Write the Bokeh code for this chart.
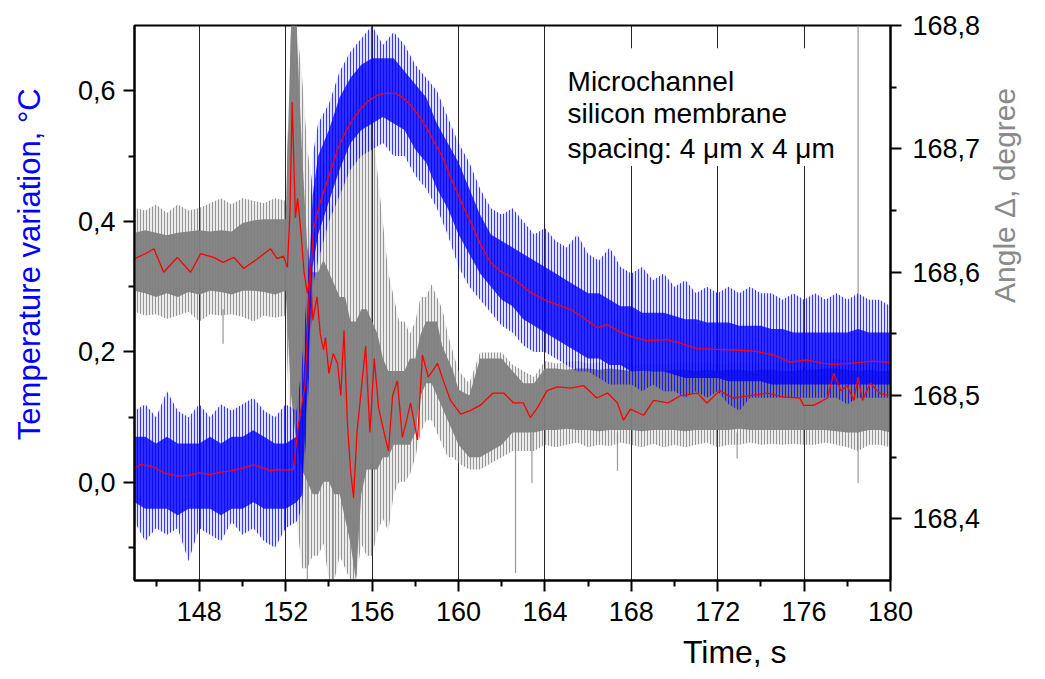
import math
from bokeh.plotting import figure
from bokeh.models import Range1d, LinearAxis, FixedTicker, CustomJSTickFormatter, Label, BoxAnnotation
from bokeh.embed import file_html
from bokeh.resources import INLINE

# ---------------- data ----------------
# Temperature noise band (blue)
t_T = [145.0, 145.5, 146.0, 146.5, 147.0, 147.5, 148.0, 148.5, 149.0, 149.5, 150.0, 150.5,
       151.0, 151.5, 152.0, 152.5, 152.75, 153.0, 153.25, 153.5, 154.0, 154.5, 155.0, 155.5,
       156.0, 156.5, 157.0, 157.5, 158.0, 158.5, 159.0, 159.5, 160.0, 160.5, 161.0, 161.5,
       162.0, 162.5, 163.0, 163.5, 164.0, 164.5, 165.0, 165.5, 166.0, 166.5, 167.0, 167.5,
       168.0, 168.5, 169.0, 169.5, 170.0, 170.5, 171.0, 171.5, 172.0, 172.5, 173.0, 173.5,
       174.0, 174.5, 175.0, 175.5, 176.0, 176.5, 177.0, 177.5, 178.0, 178.5, 179.0, 179.5, 180.0]
temp_core_lo = [-0.03, -0.04, -0.04, -0.04, -0.05, -0.04, -0.04, -0.04, -0.05, -0.04, -0.04, -0.03,
                -0.04, -0.04, -0.04, -0.03, -0.02, 0.14, 0.33, 0.38, 0.43, 0.48, 0.52, 0.54,
                0.55, 0.56, 0.55, 0.54, 0.51, 0.49, 0.45, 0.42, 0.38, 0.35, 0.32, 0.30,
                0.28, 0.27, 0.25, 0.24, 0.23, 0.22, 0.21, 0.20, 0.19, 0.19, 0.18, 0.18,
                0.17, 0.17, 0.17, 0.17, 0.165, 0.16, 0.16, 0.16, 0.16, 0.155, 0.155, 0.155,
                0.155, 0.15, 0.15, 0.15, 0.15, 0.15, 0.15, 0.15, 0.15, 0.15, 0.15, 0.15, 0.15]
temp_core_hi = [0.07, 0.07, 0.06, 0.07, 0.06, 0.06, 0.06, 0.07, 0.06, 0.07, 0.07, 0.08,
                0.07, 0.06, 0.06, 0.07, 0.12, 0.26, 0.44, 0.50, 0.54, 0.59, 0.62, 0.64,
                0.65, 0.65, 0.65, 0.63, 0.61, 0.59, 0.55, 0.52, 0.49, 0.45, 0.41, 0.38,
                0.37, 0.36, 0.35, 0.34, 0.33, 0.32, 0.31, 0.30, 0.29, 0.29, 0.28, 0.27,
                0.27, 0.26, 0.26, 0.26, 0.255, 0.25, 0.25, 0.245, 0.245, 0.245, 0.24, 0.24,
                0.24, 0.235, 0.235, 0.23, 0.23, 0.23, 0.23, 0.23, 0.23, 0.235, 0.23, 0.23, 0.23]
temp_spike_lo = [-0.06, -0.09, -0.07, -0.08, -0.07, -0.12, -0.07, -0.08, -0.09, -0.06, -0.08, -0.07,
                 -0.09, -0.10, -0.07, -0.06, -0.04, 0.10, 0.30, 0.34, 0.40, 0.44, 0.48, 0.50,
                 0.51, 0.52, 0.50, 0.50, 0.47, 0.45, 0.42, 0.38, 0.33, 0.30, 0.28, 0.26,
                 0.24, 0.23, 0.21, 0.20, 0.20, 0.19, 0.18, 0.17, 0.17, 0.16, 0.15, 0.15,
                 0.15, 0.14, 0.15, 0.14, 0.14, 0.13, 0.14, 0.13, 0.14, 0.12, 0.11, 0.13,
                 0.13, 0.13, 0.13, 0.13, 0.13, 0.13, 0.13, 0.13, 0.12, 0.13, 0.13, 0.13, 0.13]
temp_spike_hi = [0.11, 0.12, 0.10, 0.14, 0.11, 0.10, 0.12, 0.10, 0.12, 0.11, 0.12, 0.13,
                 0.11, 0.10, 0.12, 0.11, 0.18, 0.30, 0.50, 0.55, 0.58, 0.63, 0.66, 0.68,
                 0.70, 0.67, 0.69, 0.67, 0.64, 0.62, 0.60, 0.56, 0.52, 0.49, 0.45, 0.42,
                 0.41, 0.42, 0.40, 0.38, 0.39, 0.37, 0.36, 0.38, 0.35, 0.34, 0.36, 0.33,
                 0.32, 0.33, 0.31, 0.32, 0.30, 0.31, 0.29, 0.30, 0.29, 0.30, 0.29, 0.30,
                 0.29, 0.29, 0.28, 0.29, 0.28, 0.29, 0.28, 0.29, 0.28, 0.29, 0.28, 0.28, 0.27]

# Temperature smoothed (red)
t_Ts = [145.0, 145.3, 145.6, 146.0, 146.35, 146.7, 147.0, 147.5, 148.0, 148.5, 149.0, 149.5,
        150.0, 150.5, 151.0, 151.3, 151.6, 152.0, 152.35, 152.6, 152.9, 153.1, 153.3, 153.6,
        154.07, 154.4, 154.77, 155.1, 155.46, 155.8, 156.24, 156.6, 157.1, 157.4, 157.78, 158.2,
        158.55, 158.9, 159.3, 159.6, 159.93, 160.25, 160.56, 161.0, 161.48, 162.0, 162.4, 162.9,
        163.33, 164.1, 164.6, 165.19, 165.8, 166.42, 166.88, 167.4, 167.96, 168.74, 169.2, 169.66,
        170.3, 171.05, 171.98, 172.8, 173.8, 174.6, 175.37, 175.7, 176.14, 176.8, 177.4, 178.2,
        179.2, 180.0]
temp_smooth = [0.022, 0.028, 0.026, 0.022, 0.015, 0.012, 0.010, 0.011, 0.015, 0.012, 0.016, 0.018,
               0.022, 0.027, 0.022, 0.018, 0.020, 0.019, 0.020, 0.090, 0.150, 0.300, 0.390, 0.430,
               0.476, 0.510, 0.537, 0.556, 0.572, 0.584, 0.593, 0.596, 0.596, 0.590, 0.578, 0.560,
               0.542, 0.520, 0.496, 0.470, 0.445, 0.420, 0.399, 0.366, 0.337, 0.322, 0.316, 0.303,
               0.291, 0.278, 0.272, 0.265, 0.252, 0.237, 0.242, 0.232, 0.224, 0.217, 0.218, 0.219,
               0.213, 0.205, 0.204, 0.203, 0.201, 0.195, 0.184, 0.186, 0.188, 0.183, 0.181, 0.183,
               0.186, 0.184]

# Angle noise band (gray)
t_A = [145.0, 145.5, 146.0, 146.5, 147.0, 147.5, 148.0, 148.5, 149.0, 149.5, 150.0, 150.5,
       151.0, 151.5, 152.0, 152.25, 152.5, 152.75, 153.0, 153.25, 153.5, 153.75, 154.0, 154.25,
       154.5, 154.75, 155.0, 155.25, 155.5, 155.75, 156.0, 156.25, 156.5, 156.75, 157.0, 157.25,
       157.5, 157.75, 158.0, 158.25, 158.5, 158.75, 159.0, 159.25, 159.5, 159.75, 160.0, 160.5,
       161.0, 161.5, 162.0, 162.5, 163.0, 163.5, 164.0, 164.5, 165.0, 165.5, 166.0, 166.5,
       167.0, 167.5, 168.0, 168.5, 169.0, 169.5, 170.0, 170.5, 171.0, 171.5, 172.0, 172.5,
       173.0, 173.5, 174.0, 174.5, 175.0, 175.5, 176.0, 176.5, 177.0, 177.5, 178.0, 178.5,
       179.0, 179.5, 180.0]
ang_core_lo = [168.585, 168.583, 168.580, 168.583, 168.580, 168.584, 168.582, 168.585, 168.584, 168.582, 168.585, 168.585,
               168.584, 168.582, 168.585, 168.500, 168.460, 168.440, 168.430, 168.420, 168.420, 168.430, 168.430, 168.420,
               168.420, 168.400, 168.380, 168.350, 168.420, 168.440, 168.440, 168.440, 168.450, 168.450, 168.460, 168.460,
               168.460, 168.460, 168.470, 168.500, 168.510, 168.510, 168.500, 168.490, 168.480, 168.470, 168.460, 168.450,
               168.450, 168.455, 168.460, 168.470, 168.470, 168.470, 168.472, 168.472, 168.473, 168.472, 168.472, 168.471,
               168.472, 168.472, 168.472, 168.471, 168.472, 168.472, 168.472, 168.471, 168.472, 168.472, 168.472, 168.472,
               168.473, 168.472, 168.472, 168.472, 168.472, 168.472, 168.472, 168.472, 168.472, 168.471, 168.470, 168.470,
               168.472, 168.472, 168.470]
ang_core_hi = [168.632, 168.634, 168.632, 168.630, 168.632, 168.633, 168.634, 168.633, 168.634, 168.633, 168.640, 168.642,
               168.643, 168.643, 168.643, 168.800, 168.800, 168.700, 168.620, 168.600, 168.600, 168.610, 168.600, 168.590,
               168.580, 168.580, 168.560, 168.560, 168.570, 168.570, 168.560, 168.550, 168.530, 168.520, 168.520, 168.520,
               168.520, 168.530, 168.530, 168.550, 168.560, 168.560, 168.560, 168.540, 168.530, 168.520, 168.505, 168.500,
               168.530, 168.530, 168.530, 168.520, 168.510, 168.510, 168.522, 168.522, 168.521, 168.522, 168.522, 168.521,
               168.522, 168.521, 168.520, 168.519, 168.520, 168.520, 168.521, 168.521, 168.520, 168.521, 168.520, 168.521,
               168.521, 168.520, 168.521, 168.521, 168.520, 168.520, 168.521, 168.521, 168.522, 168.522, 168.521, 168.520,
               168.521, 168.520, 168.520]
ang_spike_lo = [168.568, 168.565, 168.566, 168.562, 168.565, 168.568, 168.560, 168.566, 168.565, 168.566, 168.564, 168.560,
                168.565, 168.563, 168.565, 168.440, 168.400, 168.360, 168.360, 168.370, 168.370, 168.380, 168.350, 168.350,
                168.370, 168.360, 168.350, 168.350, 168.380, 168.370, 168.370, 168.390, 168.400, 168.390, 168.420, 168.430,
                168.430, 168.436, 168.450, 168.470, 168.480, 168.480, 168.470, 168.460, 168.450, 168.450, 168.445, 168.440,
                168.440, 168.445, 168.450, 168.455, 168.455, 168.455, 168.460, 168.458, 168.460, 168.462, 168.458, 168.460,
                168.459, 168.462, 168.460, 168.458, 168.461, 168.458, 168.460, 168.458, 168.460, 168.462, 168.458, 168.460,
                168.460, 168.462, 168.460, 168.461, 168.460, 168.461, 168.460, 168.460, 168.462, 168.460, 168.458, 168.455,
                168.460, 168.460, 168.458]
ang_spike_hi = [168.652, 168.650, 168.655, 168.648, 168.655, 168.650, 168.652, 168.656, 168.660, 168.655, 168.660, 168.658,
                168.656, 168.660, 168.658, 168.800, 168.800, 168.760, 168.700, 168.670, 168.670, 168.690, 168.660, 168.650,
                168.700, 168.720, 168.730, 168.740, 168.770, 168.760, 168.720, 168.680, 168.640, 168.600, 168.580, 168.560,
                168.560, 168.550, 168.560, 168.580, 168.580, 168.590, 168.580, 168.570, 168.550, 168.535, 168.520, 168.510,
                168.535, 168.535, 168.535, 168.525, 168.520, 168.515, 168.528, 168.526, 168.527, 168.528, 168.526, 168.527,
                168.526, 168.527, 168.525, 168.525, 168.526, 168.525, 168.526, 168.527, 168.526, 168.527, 168.525, 168.526,
                168.527, 168.526, 168.527, 168.526, 168.526, 168.527, 168.526, 168.527, 168.528, 168.530, 168.528, 168.528,
                168.527, 168.526, 168.526]

# Isolated angle spikes (gray)
spike_t = [149.1, 153.0, 154.2, 162.64, 163.4, 167.36, 172.9, 178.5]
spike_lo = [168.542, 168.350, 168.350, 168.356, 168.429, 168.439, 168.449, 168.429]
spike_hi = [168.570, 168.450, 168.450, 168.470, 168.470, 168.470, 168.470, 168.800]

# Angle smoothed (red)
t_As = [145.0, 145.5, 145.9, 146.35, 146.98, 147.6, 148.06, 148.66, 149.1, 149.6, 150.06, 150.7,
        151.3, 151.6, 151.9, 152.08, 152.2, 152.3, 152.45, 152.55, 152.7, 152.85, 153.0, 153.15,
        153.25, 153.45, 153.6, 153.75, 153.84, 154.0, 154.2, 154.4, 154.55, 154.7, 154.85, 155.0,
        155.14, 155.3, 155.46, 155.7, 155.9, 156.1, 156.3, 156.53, 156.76, 156.95, 157.17, 157.4,
        157.6, 157.78, 158.1, 158.33, 158.6, 158.8, 159.03, 159.3, 159.63, 160.1, 160.56, 161.0,
        161.6, 162.1, 162.55, 163.0, 163.33, 163.65, 164.1, 164.58, 165.18, 165.8, 166.4, 166.9,
        167.36, 167.64, 167.96, 168.57, 169.03, 169.7, 170.3, 171.06, 171.5, 172.1, 172.7, 173.5,
        174.3, 175.0, 175.8, 175.97, 176.45, 177.08, 177.37, 177.7, 178.0, 178.3, 178.5, 178.7,
        179.07, 179.5, 179.9]
ang_smooth = [168.611, 168.615, 168.619, 168.600, 168.612, 168.600, 168.615, 168.612, 168.608, 168.612, 168.603, 168.611,
              168.619, 168.611, 168.613, 168.604, 168.650, 168.738, 168.644, 168.660, 168.634, 168.600, 168.583, 168.600,
              168.561, 168.580, 168.550, 168.537, 168.547, 168.518, 168.534, 168.526, 168.500, 168.553, 168.480, 168.440,
              168.417, 168.470, 168.498, 168.540, 168.470, 168.530, 168.490, 168.472, 168.455, 168.500, 168.512, 168.466,
              168.480, 168.494, 168.464, 168.533, 168.515, 168.520, 168.526, 168.512, 168.496, 168.485, 168.488, 168.492,
              168.502, 168.502, 168.494, 168.494, 168.482, 168.490, 168.504, 168.507, 168.506, 168.508, 168.498, 168.502,
              168.494, 168.480, 168.489, 168.484, 168.496, 168.494, 168.500, 168.502, 168.494, 168.504, 168.498, 168.500,
              168.502, 168.499, 168.498, 168.492, 168.492, 168.498, 168.518, 168.504, 168.508, 168.496, 168.515, 168.496,
              168.510, 168.502, 168.500]

x_major = [148, 152, 156, 160, 164, 168, 172, 176, 180]
x_minor = [146, 150, 154, 158, 162, 166, 170, 174, 178]
t_major = [0.0, 0.2, 0.4, 0.6]
t_minor = [-0.1, 0.1, 0.3, 0.5]
a_major = [168.4, 168.5, 168.6, 168.7, 168.8]
a_minor = [168.45, 168.55, 168.65, 168.75]

# ---------------- figure ----------------
FONT = "Liberation Sans"
BLUE = "#0000FF"
GRAY = "#808080"
RED = "#FF0000"
NB = "\u00a0"

W, H = 1040, 679
p = figure(width=W, height=H, output_backend="svg", toolbar_location=None, title=None,
           x_range=Range1d(145, 180), y_range=Range1d(-0.15, 0.7),
           min_border_left=134, min_border_right=W - 890, min_border_top=25, min_border_bottom=H - 580)
p.extra_y_ranges = {"angle": Range1d(168.35, 168.8001)}
p.background_fill_color = "white"
p.border_fill_color = "white"
p.outline_line_color = "black"
p.outline_line_width = 2

p.ygrid.visible = False
p.xgrid.ticker = FixedTicker(ticks=x_major)
p.xgrid.grid_line_color = "black"
p.xgrid.grid_line_width = 1
p.xgrid.grid_line_alpha = 0.85

comma = CustomJSTickFormatter(code="return tick.toFixed(1).replace('.', ',');")

def style_axis(ax):
    ax.axis_line_width = 2
    ax.axis_line_color = "black"
    ax.major_tick_line_width = 2
    ax.minor_tick_line_width = 2
    ax.major_tick_out = 11
    ax.major_tick_in = 0
    ax.minor_tick_out = 6
    ax.minor_tick_in = 0
    ax.major_label_text_font = FONT
    ax.major_label_text_font_size = "27px"
    ax.major_label_text_color = "black"
    ax.major_label_standoff = 8
    ax.axis_label_text_font = FONT
    ax.axis_label_text_font_size = "31px"
    ax.axis_label_text_font_style = "normal"

xa = p.xaxis[0]
xa.ticker = FixedTicker(ticks=x_major, minor_ticks=x_minor)
style_axis(xa)
xa.major_label_standoff = 10
xa.axis_label = NB * 50 + "Time, s"
xa.axis_label_text_font_size = "32px"
xa.axis_label_standoff = 10
xa.axis_label_text_color = "black"

ya = p.yaxis[0]
ya.ticker = FixedTicker(ticks=t_major, minor_ticks=t_minor)
ya.formatter = comma
style_axis(ya)
ya.axis_label = NB * 9 + "Temperature variation, \u00b0C"
ya.axis_label_standoff = 28
ya.axis_label_text_color = BLUE

ra = LinearAxis(y_range_name="angle", ticker=FixedTicker(ticks=a_major, minor_ticks=a_minor),
                formatter=comma)
style_axis(ra)
ra.major_label_standoff = 11
ra.axis_label = "Angle \u0394, degree"
ra.axis_label_text_font_size = "30px"
ra.axis_label_orientation = math.pi / 2
ra.axis_label_standoff = 21
ra.axis_label_text_color = "#8a8a8a"
p.add_layout(ra, "right")

# ---- data marks ----
p.varea(x=t_A, y1=ang_spike_lo, y2=ang_spike_hi, y_range_name="angle",
        fill_color=GRAY, fill_alpha=0.15,
        hatch_pattern="vertical_line", hatch_color=GRAY, hatch_alpha=0.8, hatch_scale=3, hatch_weight=1)
p.varea(x=t_A, y1=ang_core_lo, y2=ang_core_hi, y_range_name="angle",
        fill_color=GRAY, fill_alpha=0.95)
p.segment(x0=spike_t, y0=spike_lo, x1=spike_t, y1=spike_hi, y_range_name="angle",
          line_color=GRAY, line_width=1.2, line_alpha=0.8)

p.varea(x=t_T, y1=temp_spike_lo, y2=temp_spike_hi, fill_color=BLUE, fill_alpha=0.12,
        hatch_pattern="vertical_line", hatch_color=BLUE, hatch_alpha=0.75, hatch_scale=3, hatch_weight=1)
p.varea(x=t_T, y1=temp_core_lo, y2=temp_core_hi, fill_color=BLUE, fill_alpha=0.8)

p.line(t_Ts, temp_smooth, line_color=RED, line_width=1.3)
p.line(t_As, ang_smooth, y_range_name="angle", line_color=RED, line_width=1.3)

# ---- text box ----
p.add_layout(BoxAnnotation(left=164.85, right=178.3, bottom=0.485, top=0.665,
                           fill_color="white", fill_alpha=1.0, line_color=None))
for txt, yv in [("Microchannel", 0.614), ("silicon membrane", 0.565), ("spacing: 4 \u03bcm x 4 \u03bcm", 0.511)]:
    p.add_layout(Label(x=165.05, y=yv, text=txt, text_font=FONT, text_font_size="28px",
                       text_color="black", text_align="left", text_baseline="alphabetic"))

open("out.html", "w").write(file_html(p, INLINE))
